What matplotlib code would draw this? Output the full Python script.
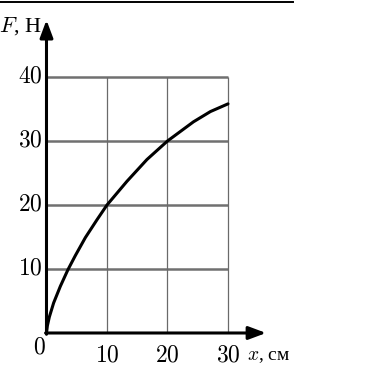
import numpy as np
import matplotlib
matplotlib.use("Agg")
import matplotlib.pyplot as plt
from matplotlib.lines import Line2D

plt.rcParams['mathtext.fontset'] = 'cm'
plt.rcParams['font.family'] = ['Liberation Serif', 'DejaVu Serif']

# curve, x in cm, F in N
x_cm = [0, 0.15, 0.47, 1.18, 2.29, 3.55, 4.77, 6.42, 8.35, 10,
        13.3, 16.6, 20, 24.3, 27.1, 30]
f_n = [0, 1.15, 2.5, 4.7, 7.3, 9.9, 12.1, 14.9, 17.7, 20,
       23.7, 27.1, 30, 33.0, 34.6, 35.8]

x_ticks = [10, 20, 30]
f_ticks = [10, 20, 30, 40]
x_label = ", см"
f_label = ", Н"

fig = plt.figure(figsize=(3.83, 3.84), dpi=100)
ax = fig.add_axes([0.0898, 0.0995, 0.6634, 0.9])
ax.set_xlim(-2, 40)
ax.set_ylim(-2, 52)
ax.axis('off')

# grid: horizontal lines heavier than vertical ones
ax.hlines(f_ticks, 0, x_ticks[-1], color='#707070', lw=1.8, zorder=1)
ax.vlines(x_ticks, 0, f_ticks[-1], color='#6a6a6a', lw=0.9, zorder=1)

# axes with arrows
arrow = dict(arrowstyle='-|>,head_length=0.75,head_width=0.28', lw=2.2, color='k',
             shrinkA=0, shrinkB=0, mutation_scale=14)
ax.annotate('', xy=(36.3, 0), xytext=(-0.15, 0), arrowprops=arrow, zorder=3)
ax.annotate('', xy=(0, 48.9), xytext=(0, -0.2), arrowprops=arrow, zorder=3)

ax.plot(x_cm, f_n, color='k', lw=2.2, solid_capstyle='round',
        solid_joinstyle='round', zorder=4)

fs = 17
for v in f_ticks:
    ax.text(-0.6, v, r'$%d$' % v, ha='right', va='center', fontsize=fs)
for v in x_ticks:
    ax.text(v, -3.6, r'$%d$' % v, ha='center', va='center', fontsize=fs)
ax.text(-1.1, -2.3, r'$0$', ha='center', va='center', fontsize=fs)

ax.text(-0.8, 48.0, r'$F$' + f_label, ha='right', va='center', fontsize=fs - 1)
ax.text(33.2, -3.6, r'$x$' + x_label, ha='left', va='center', fontsize=fs - 3)

# thin rule at the top of the picture
fig.add_artist(Line2D([0, 293 / 383], [1 - 2 / 384] * 2, transform=fig.transFigure,
                      color='k', lw=1.4))

fig.savefig('out.png', dpi=100)
